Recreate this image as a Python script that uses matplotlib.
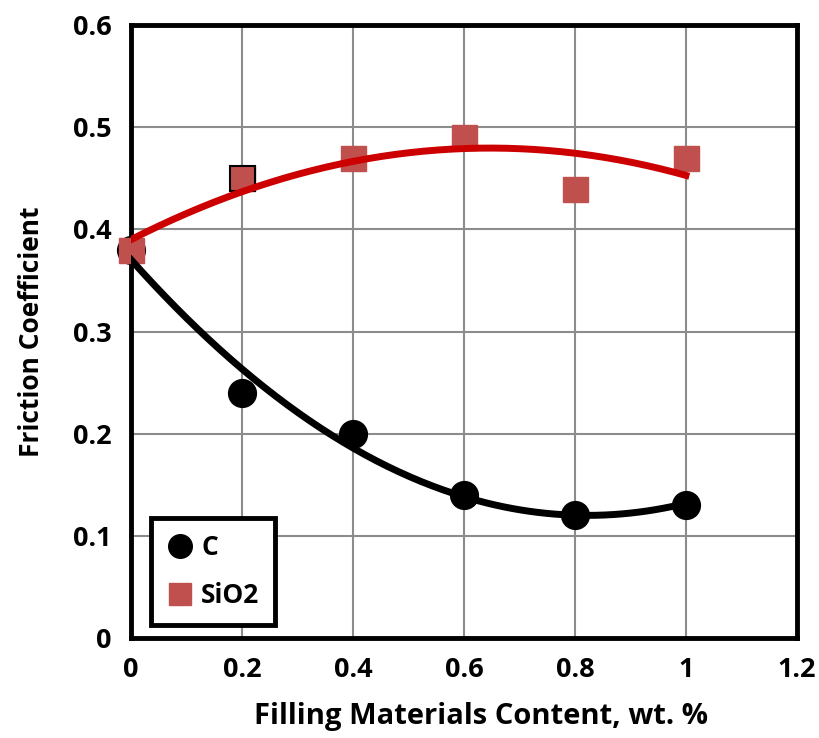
import numpy as np
import matplotlib
matplotlib.use('Agg')
from matplotlib import pyplot as plt

plt.rcParams['font.family'] = ['Open Sans', 'DejaVu Sans']
plt.rcParams['font.weight'] = 'bold'

content = [0, 0.2, 0.4, 0.6, 0.8, 1.0]
c_friction = [0.38, 0.24, 0.20, 0.14, 0.12, 0.13]
sio2_friction = [0.38, 0.45, 0.47, 0.49, 0.44, 0.47]

fig = plt.figure(figsize=(8.19, 7.38), dpi=100)
ax = fig.add_axes([0.16, 0.1355, 0.813, 0.8305])

# polynomial trendlines (order 2) like the Excel chart
xs = np.linspace(0, 1, 200)
pc = np.polyfit(content, c_friction, 2)
ps = np.polyfit(content, sio2_friction, 2)

ax.plot(content, c_friction, 'o', color='black', markersize=20, label='C', zorder=3, clip_on=False)
ax.plot(content, sio2_friction, 's', color='#c0504d', markersize=18, label='SiO2', zorder=3, clip_on=False)
# the 0.2 SiO2 point has a black outline in the original
ax.plot(content[1], sio2_friction[1], 's', color='#c0504d', markeredgecolor='black',
        markeredgewidth=1.5, markersize=18, zorder=3)
ax.plot(xs, np.polyval(pc, xs), color='black', linewidth=5, zorder=4)
ax.plot(xs, np.polyval(ps, xs), color='#cc0000', linewidth=5, zorder=4)

ax.set_xlim(0, 1.2)
ax.set_ylim(0, 0.6)
ax.set_xticks([0, 0.2, 0.4, 0.6, 0.8, 1, 1.2])
ax.set_xticklabels(['0', '0.2', '0.4', '0.6', '0.8', '1', '1.2'])
ax.set_yticks([0, 0.1, 0.2, 0.3, 0.4, 0.5, 0.6])
ax.set_yticklabels(['0', '0.1', '0.2', '0.3', '0.4', '0.5', '0.6'])
ax.tick_params(length=0, labelsize=19.5, pad=14)
ax.grid(True, color='#8c8c8c', linewidth=1.5)
ax.set_axisbelow(True)
for s in ax.spines.values():
    s.set_linewidth(3.5)
    s.set_color('black')

ax.set_xlabel('Filling Materials Content, wt. %', fontsize=21, fontweight='bold', labelpad=13)
ax.xaxis.set_label_coords(0.525, -0.105)
ax.set_ylabel('Friction Coefficient', fontsize=19, fontweight='bold', labelpad=20)

leg = ax.legend(loc='lower left', bbox_to_anchor=(0.01, 0.0), fontsize=19, frameon=True,
                fancybox=False, handlelength=1.0, handletextpad=0.3, borderpad=0.6,
                labelspacing=0.8, markerscale=0.85)
leg.get_frame().set_edgecolor('black')
leg.get_frame().set_linewidth(3.5)
leg.get_frame().set_alpha(1)

plt.savefig('out.png', dpi=100)
